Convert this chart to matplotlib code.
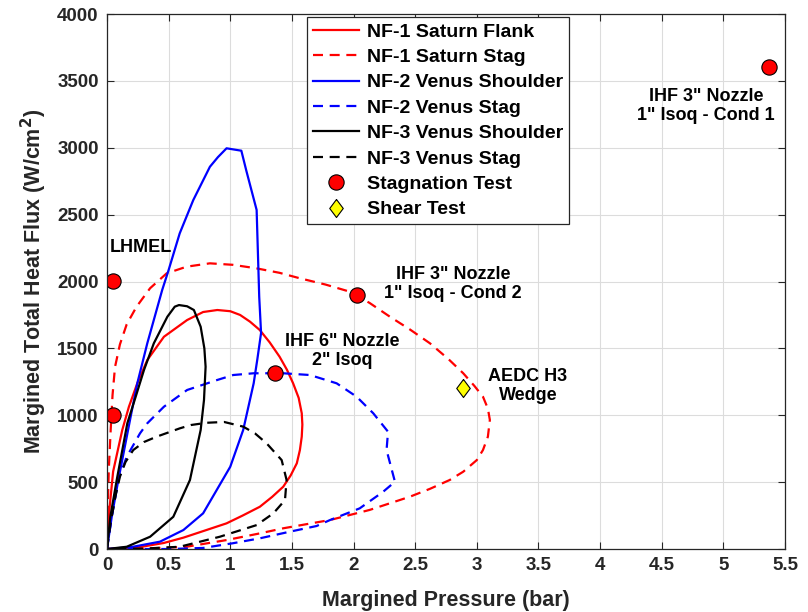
import numpy as np
import matplotlib
matplotlib.use('Agg')
import matplotlib.pyplot as plt

plt.rcParams['font.family'] = ['Liberation Sans', 'DejaVu Sans']
plt.rcParams['font.weight'] = 'bold'
plt.rcParams['axes.labelweight'] = 'bold'

# NF-1 Saturn Flank (solid red)
nf1_flank_x = [0, 0.02, 0.05, 0.124, 0.178, 0.246, 0.327, 0.462, 0.65, 0.78, 0.895, 1.0,
               1.08, 1.16, 1.24, 1.32, 1.40, 1.46, 1.51, 1.555, 1.58, 1.585, 1.58, 1.565,
               1.54, 1.49, 1.43, 1.34, 1.24, 1.10, 0.97, 0.80, 0.62, 0.46, 0.25, 0]
nf1_flank_y = [0, 300, 580, 890, 1064, 1239, 1413, 1587, 1712, 1772, 1787, 1778,
               1750, 1700, 1637, 1545, 1438, 1340, 1239, 1130, 1015, 930, 840, 740,
               641, 550, 466, 390, 316, 250, 192, 140, 85, 45, 12, 0]

# NF-1 Saturn Stag (dashed red)
nf1_stag_x = [0, 0.005, 0.015, 0.03, 0.045, 0.065, 0.105, 0.16, 0.24, 0.35, 0.484, 0.646,
              0.835, 1.02, 1.21, 1.40, 1.565, 1.77, 1.97, 2.13, 2.295, 2.46, 2.62, 2.77,
              2.89, 2.98, 3.05, 3.09, 3.106, 3.09, 3.05, 3.0, 2.89, 2.78, 2.62, 2.457,
              2.13, 1.81, 1.43, 1.24, 0.97, 0.646, 0.3, 0]
nf1_stag_y = [0, 267, 600, 890, 1150, 1360, 1530, 1680, 1812, 1950, 2061, 2111,
              2136, 2125, 2099, 2065, 2024, 1978, 1924, 1840, 1737, 1640, 1538, 1420,
              1314, 1220, 1139, 1050, 965, 840, 740, 665, 578, 516, 450, 391,
              292, 217, 155, 117, 67, 17, 3, 0]

# NF-2 Venus Shoulder (solid blue)
nf2_shoulder_x = [0, 0.04, 0.092, 0.192, 0.246, 0.327, 0.448, 0.5, 0.59, 0.70, 0.835, 0.90,
                  0.97, 1.09, 1.13, 1.214, 1.235, 1.25, 1.22, 1.19, 1.105, 1.0, 0.89, 0.78,
                  0.62, 0.43, 0.2, 0]
nf2_shoulder_y = [0, 250, 516, 989, 1239, 1538, 1937, 2086, 2360, 2609, 2858, 2930,
                  2996, 2978, 2830, 2535, 1886, 1615, 1420, 1239, 890, 615, 441, 267,
                  142, 55, 15, 0]

# NF-2 Venus Stag (dashed blue)
nf2_stag_x = [0, 0.04, 0.092, 0.16, 0.268, 0.327, 0.462, 0.65, 0.895, 1.024, 1.19, 1.43,
              1.646, 1.863, 2.025, 2.16, 2.28, 2.268, 2.336, 2.24, 2.05, 1.81, 1.70, 1.48,
              1.24, 1.02, 0.78, 0.5, 0.2, 0]
nf2_stag_y = [0, 250, 516, 690, 865, 940, 1064, 1189, 1264, 1301, 1314, 1314,
              1301, 1239, 1139, 1015, 877, 740, 503, 428, 304, 217, 172, 129,
              80, 43, 8, 0, 0, 0]

# NF-3 Venus Shoulder (solid black)
nf3_shoulder_x = [0, 0.027, 0.079, 0.165, 0.233, 0.30, 0.38, 0.49, 0.55, 0.584, 0.65, 0.705,
                  0.76, 0.79, 0.80, 0.787, 0.76, 0.673, 0.538, 0.35, 0.16, 0]
nf3_shoulder_y = [0, 240, 516, 940, 1139, 1338, 1538, 1737, 1812, 1824, 1815, 1787,
                  1662, 1500, 1363, 1114, 890, 516, 241, 92, 17, 0]

# NF-3 Venus Stag (dashed black)
nf3_stag_x = [0, 0.03, 0.07, 0.105, 0.15, 0.213, 0.30, 0.403, 0.59, 0.68, 0.81, 0.95, 1.105,
              1.20, 1.295, 1.417, 1.457, 1.444, 1.35, 1.214, 0.916, 0.59, 0.3, 0]
nf3_stag_y = [0, 200, 400, 541, 650, 740, 800, 840, 902, 927, 944, 950, 915,
              865, 790, 665, 516, 366, 267, 179, 92, 17, 3, 0]

# test points
stag_x = [0.05, 0.05, 1.36, 2.03, 5.37]
stag_y = [2005, 1005, 1316, 1900, 3604]
shear_x = [2.89]
shear_y = [1204]

fig = plt.figure(figsize=(8.08, 6.12), dpi=100)
ax = fig.add_axes([0.1324, 0.1029, 0.8391, 0.8742])

lw = 1.6
dash = (4.5, 3)
ax.plot(nf1_flank_x, nf1_flank_y, color='r', lw=lw, label='NF-1 Saturn Flank')
ax.plot(nf1_stag_x, nf1_stag_y, color='r', lw=lw, ls='--', dashes=dash, label='NF-1 Saturn Stag')
ax.plot(nf2_shoulder_x, nf2_shoulder_y, color='b', lw=lw, label='NF-2 Venus Shoulder')
ax.plot(nf2_stag_x, nf2_stag_y, color='b', lw=lw, ls='--', dashes=dash, label='NF-2 Venus Stag')
ax.plot(nf3_shoulder_x, nf3_shoulder_y, color='k', lw=lw, label='NF-3 Venus Shoulder')
ax.plot(nf3_stag_x, nf3_stag_y, color='k', lw=lw, ls='--', dashes=dash, label='NF-3 Venus Stag')
ax.plot(stag_x, stag_y, ls='none', marker='o', ms=11, mfc='r', mec='k', mew=0.8,
        label='Stagnation Test')
diamond = [(0, 1), (0.75, 0), (0, -1), (-0.75, 0), (0, 1)]
ax.plot(shear_x, shear_y, ls='none', marker=diamond, ms=13, mfc='#ffff00', mec='k', mew=0.8,
        label='Shear Test')

# annotations
fs_ann = 13
ax.text(0.024, 2258, 'LHMEL', fontsize=fs_ann, ha='left', va='center')
ax.text(1.906, 1480, 'IHF 6" Nozzle\n2" Isoq', fontsize=fs_ann, ha='center', va='center',
        linespacing=1.2)
ax.text(2.806, 1981, 'IHF 3" Nozzle\n1" Isoq - Cond 2', fontsize=fs_ann, ha='center',
        va='center', linespacing=1.2)
ax.text(3.415, 1218, 'AEDC H3\nWedge', fontsize=fs_ann, ha='center', va='center',
        linespacing=1.2)
ax.text(4.858, 3312, 'IHF 3" Nozzle\n1" Isoq - Cond 1', fontsize=fs_ann, ha='center',
        va='center', linespacing=1.2)

ax.set_xlim(0, 5.5)
ax.set_ylim(0, 4000)
ax.set_xticks(np.arange(0, 5.51, 0.5))
ax.set_xticklabels(['0', '0.5', '1', '1.5', '2', '2.5', '3', '3.5', '4', '4.5', '5', '5.5'])
ax.set_yticks(np.arange(0, 4001, 500))
ax.grid(True, color='#dcdcdc', lw=0.8)
ax.set_axisbelow(True)
ax.tick_params(direction='in', top=True, right=True, length=5, width=0.8,
               labelsize=13.5, colors='#262626', pad=6)
for s in ax.spines.values():
    s.set_color('#262626')
    s.set_linewidth(0.9)

ax.set_xlabel('Margined Pressure (bar)', fontsize=15.5, color='#262626', labelpad=11)
ax.set_ylabel('Margined Total Heat Flux (W/cm$^\\mathbf{2}$)', fontsize=15.5, color='#262626',
              labelpad=6)

leg = ax.legend(loc='upper left', bbox_to_anchor=(0.295, 0.994), fontsize=14,
                fancybox=False, framealpha=1, edgecolor='#262626', handlelength=2.4,
                handletextpad=0.4, labelspacing=0.4, borderpad=0.3, borderaxespad=0)
leg.get_frame().set_linewidth(0.9)

fig.savefig('out.png', dpi=100)
